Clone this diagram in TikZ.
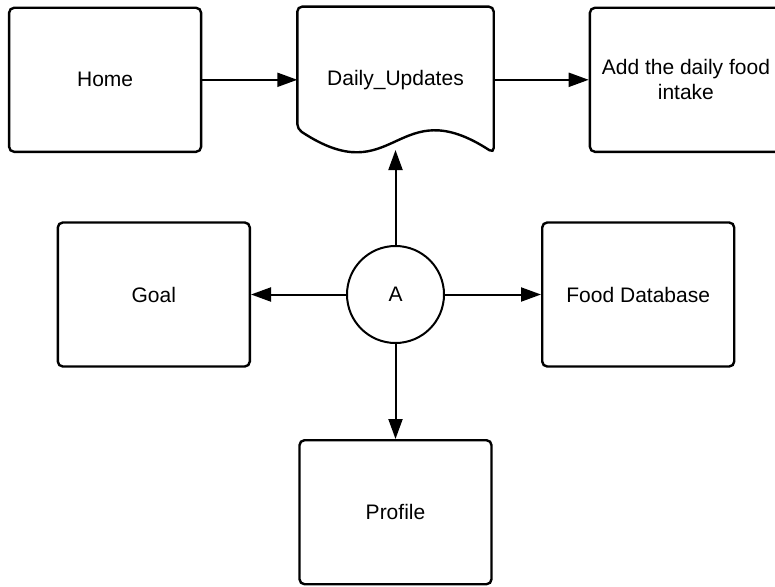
\documentclass[tikz,border=0pt]{standalone}
\usepackage{fontspec}
\setmainfont{Liberation Sans}
\usetikzlibrary{positioning,arrows.meta}

\begin{document}
\begin{tikzpicture}[
node distance=95pt,
box/.style={draw,line width=2.4pt,rounded corners=5pt,minimum width=192pt,minimum height=144pt,align=center,font=\fontsize{21}{25}\selectfont},
hub/.style={draw,circle,line width=2pt,minimum size=97pt,inner sep=0pt,font=\fontsize{21}{25}\selectfont},
>={Triangle[length=20pt,width=14pt]}]
\clip (0,0) rectangle (775pt,-586pt);
\node[hub] (a) at (395.5pt,-294.5pt) {A};
\node[box] (goal) [left=of a] {Goal};
\node[box] (food) [right=96pt of a] {Food Database};
\node[box] (profile) [below=of a] {Profile};
\node[box,draw=none,minimum width=194pt] (daily) [above=92pt of a] {Daily\_Updates};
\node[box] (home) [left=of daily] {Home};
\node[box] (intake) [right=of daily] {Add the daily food\\intake};
\draw[line width=2.4pt,rounded corners=5pt] (daily.south east) .. controls ([yshift=64pt]daily.south) and ([yshift=-41pt]daily.south) .. ([yshift=24pt]daily.south west) -- (daily.north west) -- (daily.north east) -- cycle;
\draw[->,line width=2pt] (home)--(daily);
\draw[->,line width=2pt] (daily)--(intake);
\draw[->,line width=2pt] (a)--([yshift=3pt]daily.south);
\draw[->,line width=2pt] (a)--(goal);
\draw[->,line width=2pt] (a)--(food);
\draw[->,line width=2pt] (a)--(profile);
\end{tikzpicture}
\end{document}
